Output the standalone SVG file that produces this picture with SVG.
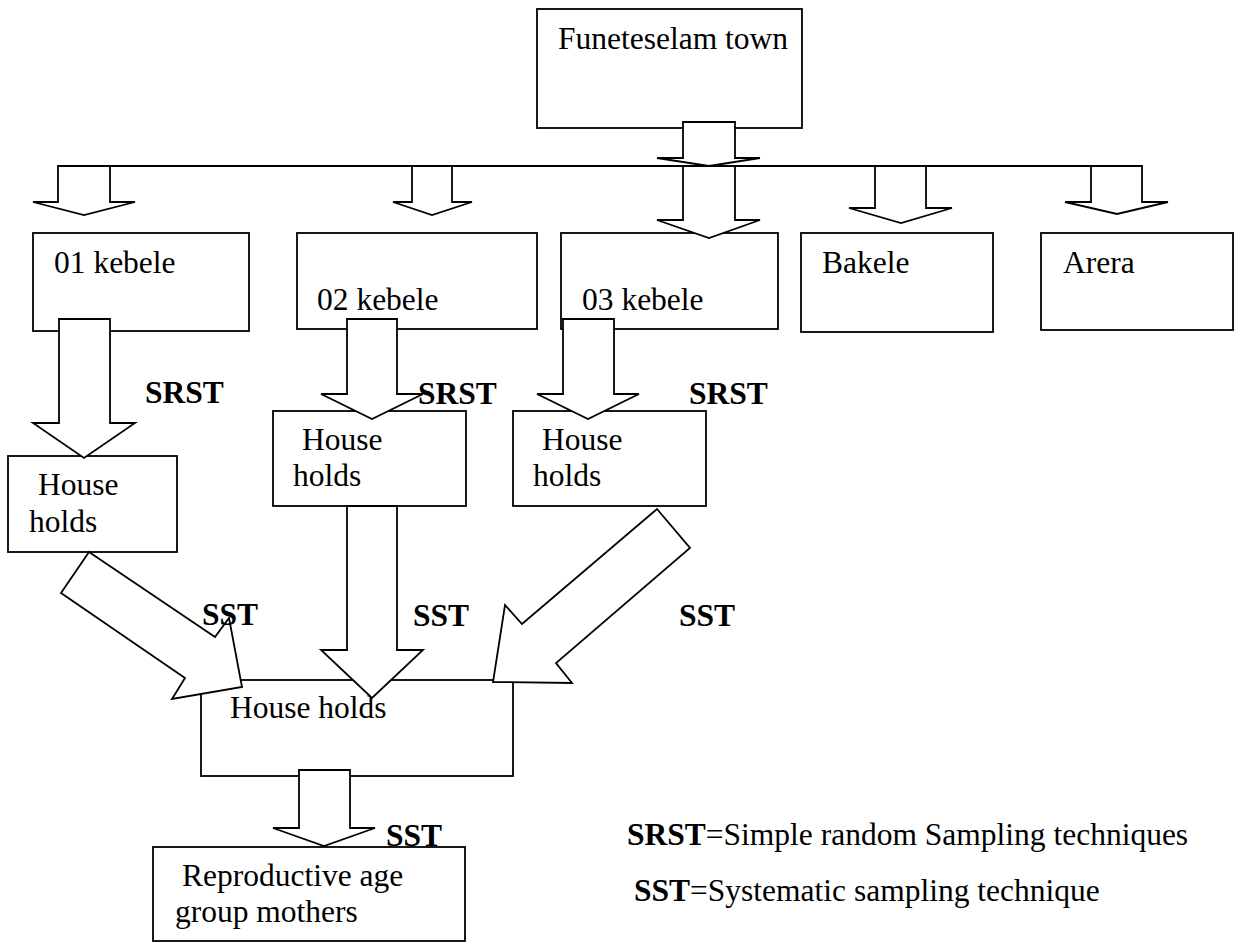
<svg xmlns="http://www.w3.org/2000/svg" width="1237" height="943" viewBox="0 0 1237 943">
<style>
.box{fill:#fff;stroke:#000;stroke-width:1.8}
.arr{fill:#fff;stroke:#000;stroke-width:1.8;stroke-linejoin:miter}
.ln{fill:none;stroke:#000;stroke-width:1.8}
.t{font-family:"Liberation Serif","Times New Roman",serif;font-size:31.5px;fill:#000}
.b{font-family:"Liberation Serif","Times New Roman",serif;font-size:31.5px;font-weight:bold;fill:#000}
</style>
<rect width="1237" height="943" fill="#fff"/>
<g id="n-town"><rect class="box" x="537" y="9" width="265" height="119"/><text class="t" x="558" y="49">Funeteselam town</text></g>
<g id="n-k01"><rect class="box" x="33" y="233" width="216" height="98"/><text class="t" x="54" y="273">01 kebele</text></g>
<g id="n-k02"><rect class="box" x="297" y="233" width="240" height="96"/><text class="t" x="317" y="310">02 kebele</text></g>
<g id="n-k03"><rect class="box" x="561" y="233" width="217" height="96"/><text class="t" x="582" y="310">03 kebele</text></g>
<g id="n-bakele"><rect class="box" x="801" y="233" width="192" height="99"/><text class="t" x="822" y="273">Bakele</text></g>
<g id="n-arera"><rect class="box" x="1041" y="233" width="192" height="97"/><text class="t" x="1063" y="273">Arera</text></g>
<g id="n-hh1"><rect class="box" x="8" y="456" width="169" height="96"/><text class="t" x="38" y="495">House</text><text class="t" x="29" y="532">holds</text></g>
<g id="n-hh2"><rect class="box" x="273" y="411" width="193" height="95"/><text class="t" x="302" y="450">House</text><text class="t" x="293" y="486">holds</text></g>
<g id="n-hh3"><rect class="box" x="513" y="411" width="193" height="95"/><text class="t" x="542" y="450">House</text><text class="t" x="533" y="486">holds</text></g>
<g id="n-hhall"><rect class="box" x="201" y="680" width="312" height="96"/><text class="t" x="230" y="718">House holds</text></g>
<g id="n-mothers"><rect class="box" x="153" y="847" width="312" height="94"/><text class="t" x="182" y="886">Reproductive age</text><text class="t" x="175" y="922">group mothers</text></g>
<g id="connectors">
<line class="ln" x1="58" y1="166" x2="1142" y2="166"/>
<polygon class="arr" points="683,122 735,122 735,158 760,158 709,166 657,158 683,158"/>
<polygon class="arr" points="58,166 110,166 110,202 135,202 84,215 33,202 58,202"/>
<polygon class="arr" points="412,166 452,166 452,202 472,202 432,215 393,202 412,202"/>
<polygon class="arr" points="683,166 735,166 735,220 760,220 709,238 657,220 683,220"/>
<polygon class="arr" points="875,166 926,166 926,208 952,208 901,223 849,208 875,208"/>
<polygon class="arr" points="1091,166 1142,166 1142,202 1168,202 1117,214 1065,202 1091,202"/>
<polygon class="arr" points="59,319 110,319 110,423 135,423 84,458 33,423 59,423"/>
<polygon class="arr" points="347,319 397,319 397,394 423,394 372,419 321,394 347,394"/>
<polygon class="arr" points="563,319 614,319 614,394 639,394 588,419 537,394 563,394"/>
<polygon class="arr" points="347,506 397,506 397,650 423,650 372,698 321,650 347,650"/>
<polygon class="arr" points="89,552 215,637 229,618 242,687 172,699 185,678 61,593"/>
<polygon class="arr" points="657,509 690,548 556,663 572,683 493,682 505,605 522,624"/>
<polygon class="arr" points="299,770 350,770 350,828 375,828 324,846 273,828 299,828"/>
</g>
<g id="labels">
<text class="b" x="145" y="403">SRST</text>
<text class="b" x="418" y="404">SRST</text>
<text class="b" x="689" y="404">SRST</text>
<text class="b" x="202" y="625">SST</text>
<text class="b" x="413" y="626">SST</text>
<text class="b" x="679" y="626">SST</text>
<text class="b" x="386" y="846">SST</text>
<text class="t" x="627" y="845"><tspan font-weight="bold">SRST</tspan>=Simple random Sampling techniques</text>
<text class="t" x="634" y="901"><tspan font-weight="bold">SST</tspan>=Systematic sampling technique</text>
</g>
</svg>
